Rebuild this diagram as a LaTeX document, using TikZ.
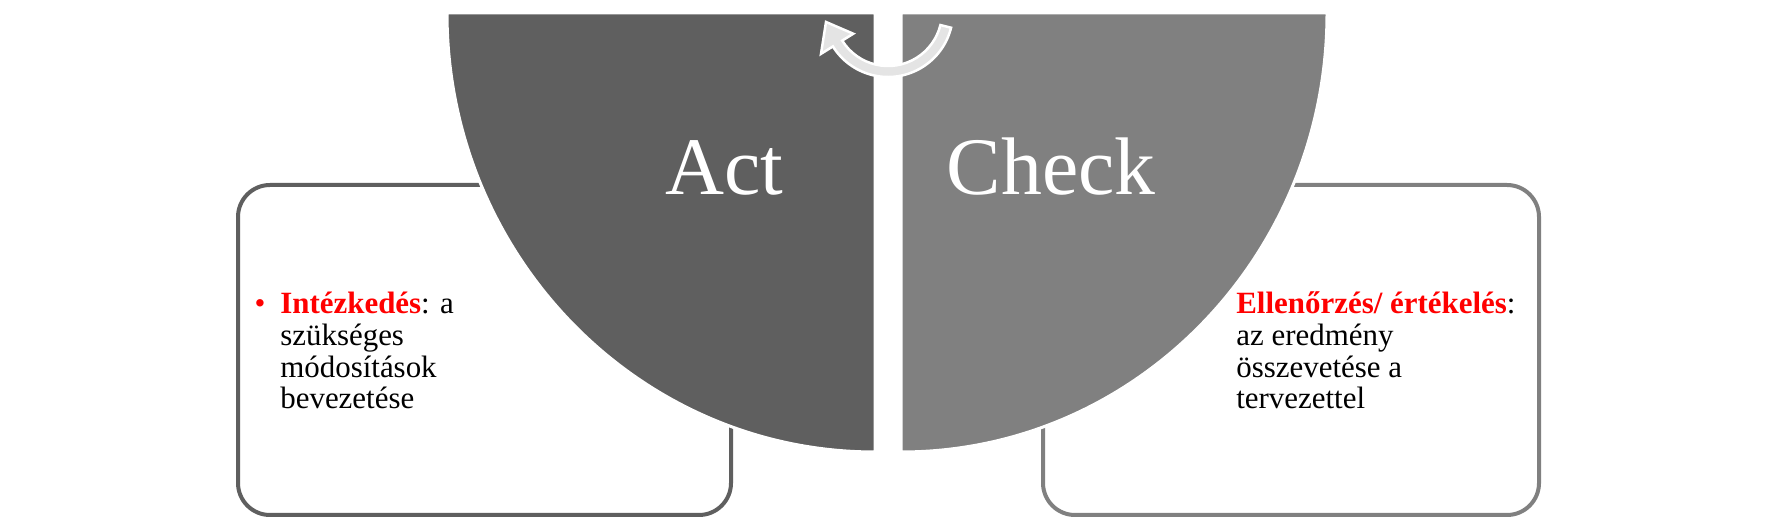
\documentclass[tikz,border=0pt]{standalone}
\usepackage{fontspec}
\setmainfont{Liberation Serif}
\usepackage{tikz}
\usetikzlibrary{calc}

\definecolor{actgray}{HTML}{5F5F5F}
\definecolor{checkgray}{HTML}{808080}
\definecolor{arrowgray}{HTML}{E4E4E4}
\definecolor{keyred}{HTML}{FF0000}

\tikzset{
  infobox/.style={draw=#1, line width=4*0.02cm, fill=white, rounded corners=32*0.02cm},
  quarter/.style={fill=#1, draw=white, line width=3*0.02cm},
  bigword/.style={text=white, inner sep=0pt, font=\fontsize{46.5}{46.5}\selectfont},
  bodytext/.style={inner sep=0pt, align=left, text=black, font=\fontsize{17.6}{18.1}\selectfont}
}

\begin{document}
\begin{tikzpicture}[x=0.02cm,y=-0.02cm]

\useasboundingbox[fill=white] (0,0) rectangle (1777,519);

% text boxes
\draw[infobox=actgray] (238,185) rectangle (731,515);
\draw[infobox=checkgray] (1043,185) rectangle (1539,515);

% quarter discs
\draw[quarter=actgray] (875,13) -- (447,13)
  arc[start angle=180, end angle=90, x radius=428, y radius=439] -- cycle;
\draw[quarter=checkgray] (901,13) -- (1327,13)
  arc[start angle=0, end angle=90, x radius=426, y radius=439] -- cycle;

% cycle arrow
\begin{scope}[shift={(888,12)}]
\draw[fill=arrowgray, draw=white, line width=2.5*0.02cm, line join=miter]
  (14:65) arc[start angle=14, end angle=148, radius=65]
  -- (148:79) -- (-62,10) -- (148:41) -- (148:54)
  arc[start angle=148, end angle=14, radius=54] -- cycle;
\end{scope}

% labels
\node[bigword, anchor=base] (act) at (724,195) {Act};
\node[bigword, anchor=base] (check) at (1051,195) {Check};

% base anchor sits on the last line
\node[bodytext, anchor=base west] (acttext) at (280,409)
  {\llap{\textcolor{keyred}{\textbullet}\hspace{8.5pt}}\textcolor{keyred}{\textbf{Intézkedés}}: a\\
   szükséges\\ módosítások\\ bevezetése};
\node[bodytext, anchor=base west] (checktext) at (1236,409)
  {\textcolor{keyred}{\textbf{Ellenőrzés/ értékelés}}:\\
   az eredmény\\ összevetése a\\ tervezettel};

\end{tikzpicture}
\end{document}
